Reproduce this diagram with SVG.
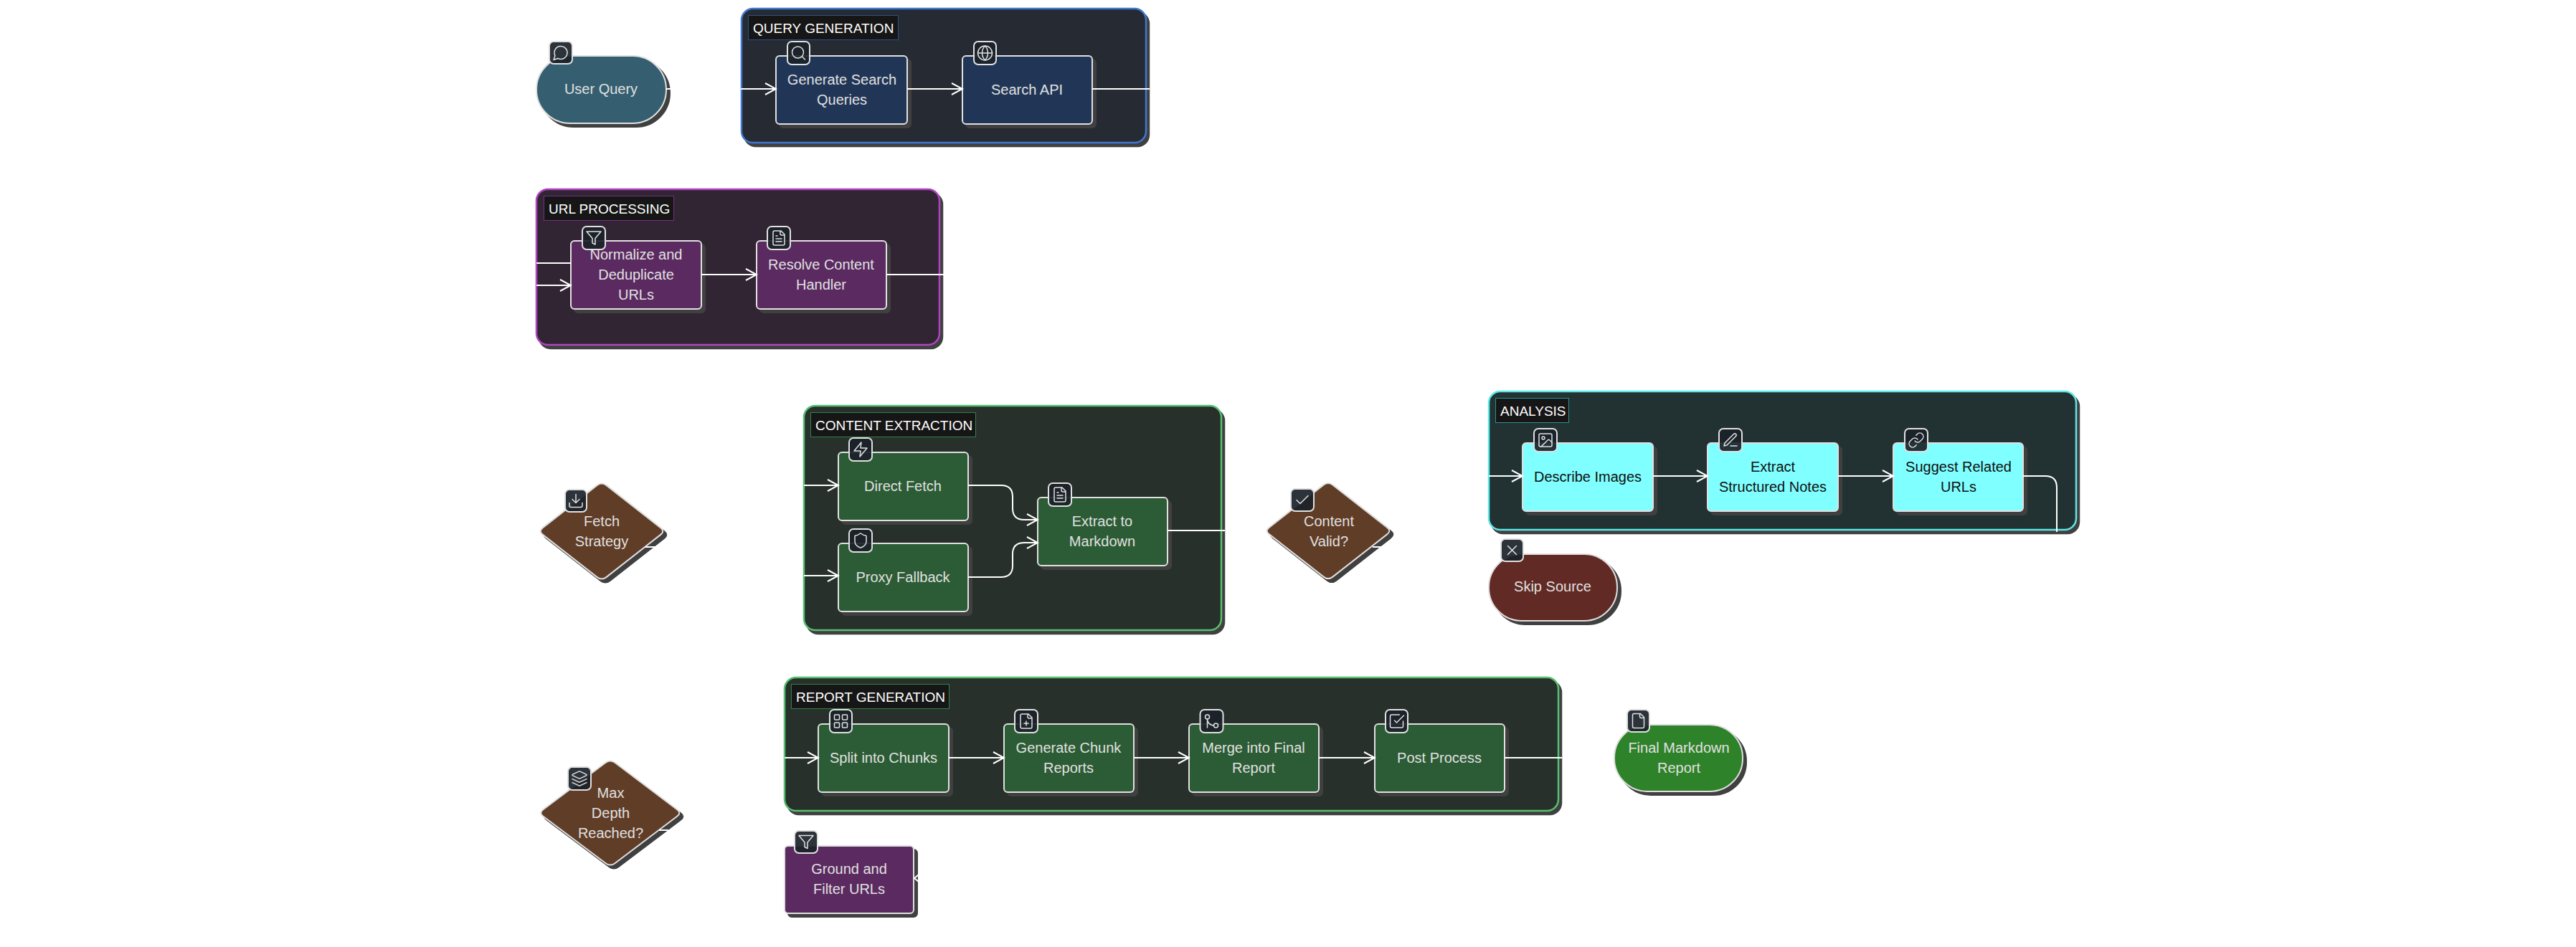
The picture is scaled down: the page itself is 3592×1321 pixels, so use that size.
<svg xmlns="http://www.w3.org/2000/svg" width="3592" height="1321" viewBox="0 0 3592 1321">
<style>
text{font-family:"Liberation Sans",Arial,sans-serif;font-size:20px;fill:#e0e0e0;text-anchor:middle}
.fl{font-size:19px;fill:#fff;text-anchor:start}
.dk{fill:#111}
.fr{stroke-width:2.500;filter:drop-shadow(4px 5px 0 #404040)}
.n{stroke:#e0e0e0;stroke-width:2;filter:drop-shadow(5px 5px 0 #404040)}
.navy{fill:#213657}.pur{fill:#5b2a60}.grn{fill:#2c5c35}.cy{fill:#7fffff}.brn{fill:#603d27}
.lb{fill:#161616;stroke-width:1}
.ib{fill:#1b2229;fill-opacity:.92;stroke:#e0e0e0;stroke-width:2}
.ic{fill:none;stroke:#e0e0e0;stroke-width:1.5;stroke-linecap:round;stroke-linejoin:round}
.c{fill:none;stroke:#fff;stroke-width:2}
.a{marker-end:url(#ar)}
</style>
<defs>
<marker id="ar" markerUnits="userSpaceOnUse" viewBox="0 0 18 18" refX="16" refY="9" markerWidth="18" markerHeight="18" orient="auto"><path d="M1 1 L16 9 L1 17" fill="none" stroke="#fff" stroke-width="2"/></marker>
<symbol id="i-msg" viewBox="0 0 24 24"><path class="ic" d="M7.9 20A9 9 0 1 0 4 16.1L2 22Z"/></symbol>
<symbol id="i-search" viewBox="0 0 24 24"><circle class="ic" cx="11" cy="11" r="8"/><path class="ic" d="m21 21-4.3-4.3"/></symbol>
<symbol id="i-globe" viewBox="0 0 24 24"><circle class="ic" cx="12" cy="12" r="10"/><path class="ic" d="M12 2a14.5 14.5 0 0 0 0 20 14.5 14.5 0 0 0 0-20M2 12h20"/></symbol>
<symbol id="i-filter" viewBox="0 0 24 24"><polygon class="ic" points="22 3 2 3 10 12.46 10 19 14 21 14 12.46 22 3"/></symbol>
<symbol id="i-filetext" viewBox="0 0 24 24"><path class="ic" d="M15 2H6a2 2 0 0 0-2 2v16a2 2 0 0 0 2 2h12a2 2 0 0 0 2-2V7ZM14 2v4a2 2 0 0 0 2 2h4M10 9H8M16 13H8M16 17H8"/></symbol>
<symbol id="i-dl" viewBox="0 0 24 24"><path class="ic" d="M21 15v4a2 2 0 0 1-2 2H5a2 2 0 0 1-2-2v-4M7 10l5 5 5-5M12 15V3"/></symbol>
<symbol id="i-zap" viewBox="0 0 24 24"><path class="ic" d="M13 2 3 14h9l-1 8 10-12h-9l1-8z"/></symbol>
<symbol id="i-shield" viewBox="0 0 24 24"><path class="ic" d="M20 13c0 5-3.500 7.500-7.660 8.950a1 1 0 0 1-.67-.01C7.500 20.500 4 18 4 13V6a1 1 0 0 1 1-1c2 0 4.500-1.200 6.240-2.720a1.170 1.170 0 0 1 1.520 0C14.510 3.810 17 5 19 5a1 1 0 0 1 1 1z"/></symbol>
<symbol id="i-check" viewBox="0 0 24 24"><path class="ic" d="M20 6 9 17l-5-5"/></symbol>
<symbol id="i-image" viewBox="0 0 24 24"><rect class="ic" x="3" y="3" width="18" height="18" rx="2"/><circle class="ic" cx="9" cy="9" r="2"/><path class="ic" d="m21 15-3.086-3.086a2 2 0 0 0-2.828 0L6 21"/></symbol>
<symbol id="i-pen" viewBox="0 0 24 24"><path class="ic" d="M12 20h9M16.500 3.500a2.120 2.120 0 0 1 3 3L7 19l-4 1 1-4Z"/></symbol>
<symbol id="i-link" viewBox="0 0 24 24"><path class="ic" d="M10 13a5 5 0 0 0 7.540.54l3-3a5 5 0 0 0-7.070-7.070l-1.720 1.710M14 11a5 5 0 0 0-7.540-.54l-3 3a5 5 0 0 0 7.070 7.070l1.710-1.710"/></symbol>
<symbol id="i-x" viewBox="0 0 24 24"><path class="ic" d="M18 6 6 18M6 6l12 12"/></symbol>
<symbol id="i-layers" viewBox="0 0 24 24"><path class="ic" d="M12.830 2.180a2 2 0 0 0-1.660 0L2.600 6.080a1 1 0 0 0 0 1.830l8.580 3.910a2 2 0 0 0 1.660 0l8.580-3.900a1 1 0 0 0 0-1.830ZM22 17.650l-9.170 4.160a2 2 0 0 1-1.660 0L2 17.650M22 12.650l-9.170 4.160a2 2 0 0 1-1.660 0L2 12.650"/></symbol>
<symbol id="i-grid" viewBox="0 0 24 24"><rect class="ic" x="3" y="3" width="7" height="7" rx="1"/><rect class="ic" x="14" y="3" width="7" height="7" rx="1"/><rect class="ic" x="14" y="14" width="7" height="7" rx="1"/><rect class="ic" x="3" y="14" width="7" height="7" rx="1"/></symbol>
<symbol id="i-fplus" viewBox="0 0 24 24"><path class="ic" d="M15 2H6a2 2 0 0 0-2 2v16a2 2 0 0 0 2 2h12a2 2 0 0 0 2-2V7ZM14 2v4a2 2 0 0 0 2 2h4M9 15h6M12 18v-6"/></symbol>
<symbol id="i-merge" viewBox="0 0 24 24"><circle class="ic" cx="18" cy="18" r="3"/><circle class="ic" cx="6" cy="6" r="3"/><path class="ic" d="M6 21V9a9 9 0 0 0 9 9"/></symbol>
<symbol id="i-csq" viewBox="0 0 24 24"><path class="ic" d="m9 11 3 3L22 4M21 12v7a2 2 0 0 1-2 2H5a2 2 0 0 1-2-2V5a2 2 0 0 1 2-2h11"/></symbol>
<symbol id="i-file" viewBox="0 0 24 24"><path class="ic" d="M15 2H6a2 2 0 0 0-2 2v16a2 2 0 0 0 2 2h12a2 2 0 0 0 2-2V7ZM14 2v4a2 2 0 0 0 2 2h4"/></symbol>
</defs>

<g id="frame-query"><rect class="fr" x="1034" y="12" width="564" height="187" rx="16" fill="#262a33" stroke="#3f78d0"/><rect class="lb" x="1043.500" y="21.500" width="209" height="34" stroke="#2a5288"/><text class="fl" x="1050" y="46">QUERY GENERATION</text></g>
<g id="frame-url"><rect class="fr" x="748" y="264" width="562" height="217" rx="16" fill="#322533" stroke="#b044c0"/><rect class="lb" x="758.500" y="273.500" width="181" height="34" stroke="#7a2a85"/><text class="fl" x="765" y="298">URL PROCESSING</text></g>
<g id="frame-content"><rect class="fr" x="1121" y="566" width="582" height="313" rx="16" fill="#27302a" stroke="#55c070"/><rect class="lb" x="1130.500" y="575.500" width="230" height="34" stroke="#35804a"/><text class="fl" x="1137" y="600">CONTENT EXTRACTION</text></g>
<g id="frame-analysis"><rect class="fr" x="2076" y="546" width="819" height="193" rx="16" fill="#223232" stroke="#5ce8e8"/><rect class="lb" x="2085.500" y="555.500" width="102" height="34" stroke="#2f8f8f"/><text class="fl" x="2092" y="580">ANALYSIS</text></g>
<g id="frame-report"><rect class="fr" x="1094" y="945" width="1079" height="186" rx="16" fill="#27302a" stroke="#55c070"/><rect class="lb" x="1103.500" y="954.500" width="220" height="34" stroke="#35804a"/><text class="fl" x="1110" y="979">REPORT GENERATION</text></g>

<g id="user-query"><rect class="n" x="748" y="78" width="181" height="94" rx="47" fill="#355f70"/><text x="838" y="131">User Query</text><rect class="ib" x="766" y="58" width="32" height="31" rx="6"/><use href="#i-msg" x="770" y="61.500" width="24" height="24"/></g>
<g id="gen-queries"><rect class="n navy" x="1082" y="78" width="183" height="95" rx="5"/><text x="1174" y="118">Generate Search</text><text x="1174" y="146">Queries</text><rect class="ib" x="1098" y="58" width="31" height="32" rx="6"/><use href="#i-search" x="1101.500" y="62" width="24" height="24"/></g>
<g id="search-api"><rect class="n navy" x="1342" y="78" width="181" height="95" rx="5"/><text x="1432" y="132">Search API</text><rect class="ib" x="1358" y="58" width="31" height="32" rx="6"/><use href="#i-globe" x="1361.500" y="62" width="24" height="24"/></g>

<g id="normalize"><rect class="n pur" x="796" y="336" width="182" height="95" rx="5"/><text x="887" y="362">Normalize and</text><text x="887" y="390">Deduplicate</text><text x="887" y="418">URLs</text><rect class="ib" x="812" y="316" width="32" height="32" rx="6"/><use href="#i-filter" x="816" y="320" width="24" height="24"/></g>
<g id="resolve"><rect class="n pur" x="1055" y="336" width="181" height="95" rx="5"/><text x="1145" y="376">Resolve Content</text><text x="1145" y="404">Handler</text><rect class="ib" x="1070" y="316" width="32" height="32" rx="6"/><use href="#i-filetext" x="1074" y="320" width="24" height="24"/></g>

<g id="fetch-strategy"><path class="n brn" d="M832.600 676.900Q839 672 845.400 676.900L921.100 736.100Q927.500 741 921.100 745.900L845.400 805.100Q839 810 832.600 805.100L756.900 745.900Q750.500 741 756.900 736.100Z"/><text x="839" y="734">Fetch</text><text x="839" y="762">Strategy</text><rect class="ib" x="788" y="683" width="30" height="31" rx="6"/><use href="#i-dl" x="791" y="686.500" width="24" height="24"/></g>

<g id="direct-fetch"><rect class="n grn" x="1169" y="631" width="181" height="95" rx="5"/><text x="1259" y="685">Direct Fetch</text><rect class="ib" x="1184" y="611" width="32" height="32" rx="6"/><use href="#i-zap" x="1188" y="615" width="24" height="24"/></g>
<g id="proxy-fallback"><rect class="n grn" x="1169" y="758" width="181" height="95" rx="5"/><text x="1259" y="812">Proxy Fallback</text><rect class="ib" x="1184" y="738" width="32" height="32" rx="6"/><use href="#i-shield" x="1188" y="742" width="24" height="24"/></g>
<g id="extract-md"><rect class="n grn" x="1447" y="694" width="181" height="95" rx="5"/><text x="1537" y="734">Extract to</text><text x="1537" y="762">Markdown</text><rect class="ib" x="1462" y="674" width="32" height="32" rx="6"/><use href="#i-filetext" x="1466" y="678" width="24" height="24"/></g>

<g id="content-valid"><path class="n brn" d="M1845.600 676.400Q1852 671.500 1858.400 676.400L1934.100 735.600Q1940.500 740.500 1934.100 745.400L1858.400 804.600Q1852 809.500 1845.600 804.600L1769.900 745.400Q1763.500 740.500 1769.900 735.600Z"/><text x="1853" y="734">Content</text><text x="1853" y="762">Valid?</text><rect class="ib" x="1800" y="682" width="32" height="31" rx="6"/><use href="#i-check" x="1804" y="685.500" width="24" height="24"/></g>

<g id="describe"><rect class="n cy" x="2123" y="618" width="182" height="95" rx="5"/><text style="fill:#111" x="2214" y="672">Describe Images</text><rect class="ib" x="2139" y="598" width="32" height="32" rx="6"/><use href="#i-image" x="2143" y="602" width="24" height="24"/></g>
<g id="notes"><rect class="n cy" x="2381" y="618" width="182" height="95" rx="5"/><text style="fill:#111" x="2472" y="658">Extract</text><text style="fill:#111" x="2472" y="686">Structured Notes</text><rect class="ib" x="2397" y="598" width="32" height="32" rx="6"/><use href="#i-pen" x="2401" y="602" width="24" height="24"/></g>
<g id="suggest"><rect class="n cy" x="2640" y="618" width="181" height="95" rx="5"/><text style="fill:#111" x="2731" y="658">Suggest Related</text><text style="fill:#111" x="2731" y="686">URLs</text><rect class="ib" x="2656" y="598" width="32" height="32" rx="6"/><use href="#i-link" x="2660" y="602" width="24" height="24"/></g>

<g id="skip-source"><rect class="n" x="2076" y="773" width="179" height="93" rx="46" fill="#622a25"/><text x="2165" y="825">Skip Source</text><rect class="ib" x="2093" y="752" width="31" height="31" rx="6"/><use href="#i-x" x="2096.500" y="755.500" width="24" height="24"/></g>

<g id="max-depth"><path class="n brn" d="M844.600 1063.800Q851 1059 857.400 1063.800L944.100 1129.200Q950.500 1134 944.100 1138.800L857.400 1204.200Q851 1209 844.600 1204.200L757.400 1138.800Q751 1134 757.400 1129.200Z"/><text x="851.500" y="1113">Max</text><text x="851.500" y="1141">Depth</text><text x="851.500" y="1169">Reached?</text><rect class="ib" x="792" y="1070" width="32" height="32" rx="6"/><use href="#i-layers" x="796" y="1074" width="24" height="24"/></g>

<g id="split"><rect class="n grn" x="1141" y="1010" width="182" height="95" rx="5"/><text x="1232" y="1064">Split into Chunks</text><rect class="ib" x="1157" y="990" width="31" height="32" rx="6"/><use href="#i-grid" x="1160.500" y="994" width="24" height="24"/></g>
<g id="chunk-reports"><rect class="n grn" x="1400" y="1010" width="181" height="95" rx="5"/><text x="1490" y="1050">Generate Chunk</text><text x="1490" y="1078">Reports</text><rect class="ib" x="1415" y="990" width="32" height="32" rx="6"/><use href="#i-fplus" x="1419" y="994" width="24" height="24"/></g>
<g id="merge"><rect class="n grn" x="1658" y="1010" width="181" height="95" rx="5"/><text x="1748" y="1050">Merge into Final</text><text x="1748" y="1078">Report</text><rect class="ib" x="1673.500" y="990" width="32" height="32" rx="6"/><use href="#i-merge" x="1677.500" y="994" width="24" height="24"/></g>
<g id="post-process"><rect class="n grn" x="1917" y="1010" width="181" height="95" rx="5"/><text x="2007" y="1064">Post Process</text><rect class="ib" x="1932" y="990" width="31" height="32" rx="6"/><use href="#i-csq" x="1935.500" y="994" width="24" height="24"/></g>

<g id="final-report"><rect class="n" x="2251" y="1011" width="179" height="93" rx="46" fill="#2e8229"/><text x="2341" y="1050">Final Markdown</text><text x="2341" y="1078">Report</text><rect class="ib" x="2269" y="990" width="31" height="31" rx="6"/><use href="#i-file" x="2272.500" y="993.500" width="24" height="24"/></g>
<g id="ground-filter"><rect class="n pur" x="1094" y="1180" width="180" height="94" rx="5"/><text x="1184" y="1219">Ground and</text><text x="1184" y="1247">Filter URLs</text><rect class="ib" x="1108" y="1159" width="32" height="31" rx="6"/><use href="#i-filter" x="1112" y="1162.500" width="24" height="24"/></g>

<g id="connectors">
<path class="c" d="M929 124H935"/>
<path class="c a" d="M1033 124H1082"/>
<path class="c a" d="M1265 124H1342"/>
<path class="c" d="M1523 124H1603"/>
<path class="c" d="M748 367H796"/>
<path class="c a" d="M748 398H796"/>
<path class="c a" d="M978 383H1055"/>
<path class="c" d="M1236 383H1316"/>
<path class="c" d="M900 763H915"/>
<path class="c a" d="M1121 677H1169"/>
<path class="c a" d="M1121 803H1169"/>
<path class="c a" d="M1350 677H1396Q1412 677 1412 693V709Q1412 725 1428 725H1447"/>
<path class="c a" d="M1350 805H1396Q1412 805 1412 789V773Q1412 757 1428 757H1447"/>
<path class="c" d="M1628 740H1708"/>
<path class="c" d="M1914 763H1930"/>
<path class="c a" d="M2076 664H2123"/>
<path class="c a" d="M2305 664H2381"/>
<path class="c a" d="M2563 664H2640"/>
<path class="c" d="M2821 664H2852Q2868 664 2868 680V742"/>
<path class="c" d="M919 1158H932"/>
<path class="c a" d="M1094 1057H1141"/>
<path class="c a" d="M1323 1057H1400"/>
<path class="c a" d="M1581 1057H1658"/>
<path class="c a" d="M1839 1057H1917"/>
<path class="c" d="M2098 1057H2178"/>
<path class="c" d="M1281 1220L1275 1225L1281 1230"/>
</g>
</svg>
